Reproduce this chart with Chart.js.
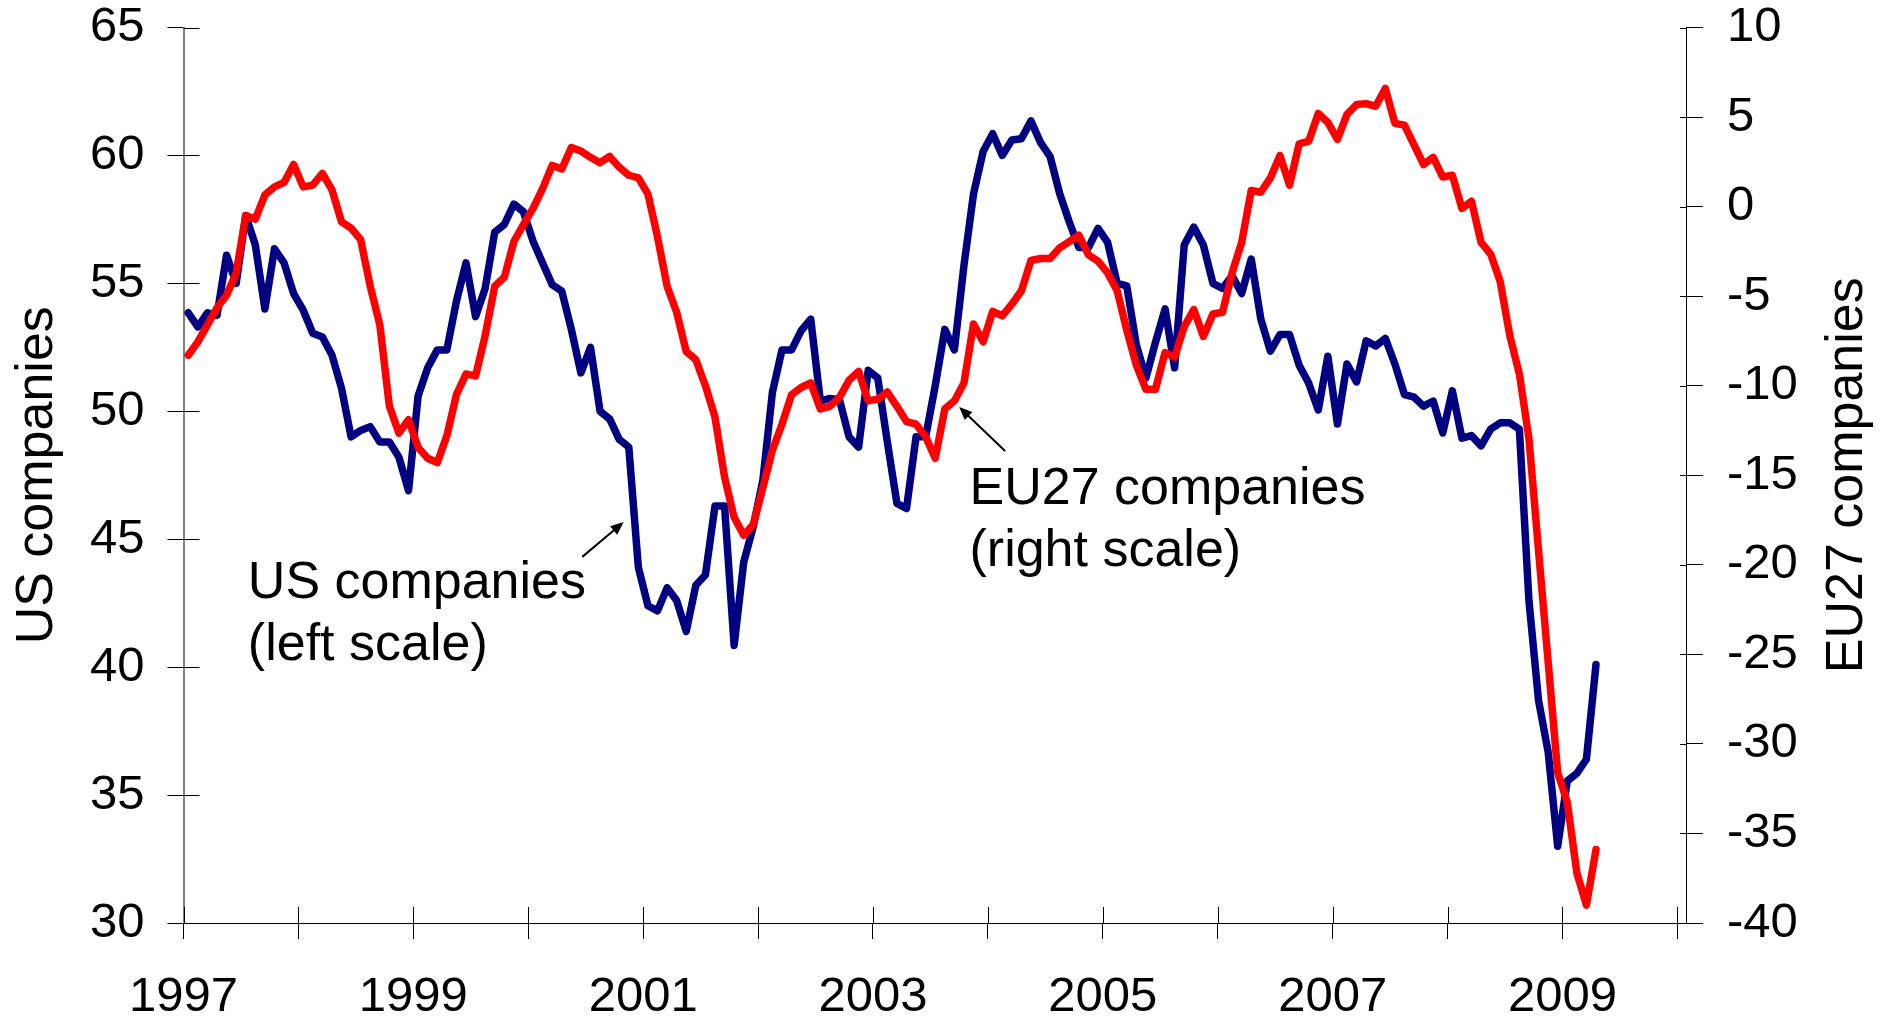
<!DOCTYPE html>
<html>
<head>
<meta charset="utf-8">
<script src="https://cdn.jsdelivr.net/npm/chart.js@4.4.1/dist/chart.umd.min.js"></script>
<style>
  html, body { margin: 0; padding: 0; background: #fff; }
</style>
</head>
<body>
<canvas id="chart" width="1880" height="1023"></canvas>
<script>
// monthly series, first point = Jan 1997, plotted mid-month
const FIRST_YEAR = 1997;

const US_VALUES = [
  53.85, 53.3, 53.85, 53.75, 56.1, 55.0, 57.65, 56.5, 54.0, 56.35, 55.8, 54.6,
  53.95, 53.05, 52.9, 52.2, 50.9, 49.0, 49.25, 49.4, 48.8, 48.8, 48.2, 46.9,
  50.6, 51.7, 52.4, 52.4, 54.3, 55.8, 53.7, 54.8, 57.0, 57.3, 58.1, 57.8,
  56.65, 55.8, 54.95, 54.7, 53.2, 51.5, 52.5, 50.0, 49.7, 48.9, 48.6, 43.9,
  42.4, 42.2, 43.1, 42.6, 41.4, 43.2, 43.6, 46.3, 46.3, 40.85, 44.1, 45.5,
  47.3, 50.75, 52.4, 52.4, 53.15, 53.6, 50.4, 50.5, 50.45, 49.0, 48.6, 51.6,
  51.3, 48.8, 46.4, 46.2, 49.0, 49.0, 51.0, 53.2, 52.4, 55.7, 58.5, 60.15,
  60.85, 60.0, 60.6, 60.65, 61.35, 60.5, 59.95, 58.5, 57.4, 56.4, 56.4, 57.15,
  56.6, 55.0, 54.9, 52.6, 51.3, 52.7, 54.0, 51.7, 56.5, 57.2, 56.5, 55.0,
  54.8, 55.3, 54.6, 55.95, 53.6, 52.35, 53.0, 53.0, 51.8, 51.1, 50.05, 52.15,
  49.5, 51.85, 51.15, 52.75, 52.55, 52.85, 51.85, 50.65, 50.55, 50.2, 50.4, 49.15,
  50.8, 48.95, 49.05, 48.65, 49.3, 49.55, 49.55, 49.3, 42.6, 38.7, 36.7, 33.0,
  35.55, 35.85, 36.4, 40.1
];

const EU_VALUES = [
  -8.3, -7.55, -6.6, -5.65, -4.95, -3.7, -0.5, -0.7, 0.65, 1.1, 1.35, 2.35,
  1.1, 1.2, 1.85, 0.95, -0.85, -1.2, -1.85, -4.45, -6.6, -11.15, -12.65, -11.9,
  -13.45, -14.05, -14.3, -12.8, -10.5, -9.35, -9.45, -7.2, -4.45, -3.95, -1.95, -1.0,
  -0.1, 1.0, 2.3, 2.1, 3.3, 3.1, 2.75, 2.45, 2.8, 2.2, 1.75, 1.6,
  0.7, -1.7, -4.45, -5.9, -8.1, -8.55, -10.0, -11.75, -15.1, -17.35, -18.35, -17.75,
  -15.7, -13.6, -12.15, -10.5, -10.1, -9.85, -11.3, -11.15, -10.65, -9.7, -9.2, -10.85,
  -10.75, -10.35, -11.15, -12.0, -12.15, -12.85, -14.05, -11.3, -10.85, -9.85, -6.55, -7.55,
  -5.85, -6.1, -5.45, -4.7, -3.0, -2.9, -2.9, -2.3, -1.95, -1.6, -2.7, -3.05,
  -3.7, -4.7, -6.9, -8.85, -10.2, -10.2, -8.15, -8.4, -6.7, -5.75, -7.25, -6.0,
  -5.9, -3.7, -2.0, 0.9, 0.8, 1.6, 2.85, 1.2, 3.5, 3.65, 5.2, 4.7,
  3.75, 5.15, 5.7, 5.75, 5.6, 6.6, 4.65, 4.55, 3.45, 2.35, 2.75, 1.65,
  1.75, -0.1, 0.3, -2.0, -2.65, -4.2, -7.2, -9.35, -12.95, -19.2, -25.4, -31.6,
  -33.25, -37.2, -39.0, -35.9
];

const YEAR_TICKS = [1997, 1998, 1999, 2000, 2001, 2002, 2003, 2004, 2005, 2006, 2007, 2008, 2009, 2010];
const YEAR_LABELS = ['1997', '', '1999', '', '2001', '', '2003', '', '2005', '', '2007', '', '2009', ''];

const LEFT_TITLE = 'US companies';
const RIGHT_TITLE = 'EU27 companies';

// callouts anchored in data space: [x, y on own axis]
const US_NOTE = { lines: ['US companies', '(left scale)'], at: [1997.56, 42.7], axis: 'y',
  arrow: [[2000.47, 44.31], [2000.83, 45.67]] };
const EU_NOTE = { lines: ['EU27 companies', '(right scale)'], at: [2003.84, -16.59], axis: 'y2',
  arrow: [[2004.15, -13.65], [2003.75, -11.19]] };

const FONT = "'Liberation Sans', Arial, Helvetica, sans-serif";

const toPoints = (values) => values.map((v, i) => ({ x: FIRST_YEAR + (i + 0.5) / 12, y: v }));

const drawArrow = (ctx, x1, y1, x2, y2) => {
  const ang = Math.atan2(y2 - y1, x2 - x1);
  const len = 13;
  const half = 5.5;
  ctx.beginPath();
  ctx.moveTo(x1, y1);
  ctx.lineTo(x2 - Math.cos(ang) * len * 0.8, y2 - Math.sin(ang) * len * 0.8);
  ctx.stroke();
  ctx.beginPath();
  ctx.moveTo(x2, y2);
  ctx.lineTo(x2 - Math.cos(ang) * len - Math.sin(ang) * half, y2 - Math.sin(ang) * len + Math.cos(ang) * half);
  ctx.lineTo(x2 - Math.cos(ang) * len + Math.sin(ang) * half, y2 - Math.sin(ang) * len - Math.cos(ang) * half);
  ctx.closePath();
  ctx.fill();
};

// y axes: keep the label overhang from pushing the plot area down
const fixYAxis = (width) => (scale) => {
  scale.width = width;
  scale.paddingTop = 0;
  scale.paddingBottom = 0;
};

const overlay = {
  id: 'overlay',
  beforeDatasetsDraw(chart) {
    const { ctx, chartArea, scales } = chart;
    ctx.save();
    ctx.strokeStyle = '#000';
    ctx.lineWidth = 1;
    ctx.beginPath();
    scales.x.ticks.forEach((t) => {
      const px = Math.round(scales.x.getPixelForValue(t.value)) + 0.5;
      ctx.moveTo(px, chartArea.bottom);
      ctx.lineTo(px, chartArea.bottom - 16);
    });
    scales.y.ticks.forEach((t) => {
      const py = Math.round(scales.y.getPixelForValue(t.value)) + 0.5;
      ctx.moveTo(chartArea.left, py);
      ctx.lineTo(chartArea.left + 16, py);
    });
    scales.y2.ticks.forEach((t) => {
      const py = Math.round(scales.y2.getPixelForValue(t.value)) + 0.5;
      ctx.moveTo(chartArea.right, py);
      ctx.lineTo(chartArea.right - 6, py);
    });
    ctx.stroke();
    ctx.restore();
  },
  afterDraw(chart) {
    const { ctx, chartArea, scales } = chart;
    const midY = (chartArea.top + chartArea.bottom) / 2;
    ctx.save();
    ctx.fillStyle = '#000';
    ctx.strokeStyle = '#000';
    ctx.font = `52px ${FONT}`;
    ctx.textAlign = 'center';
    ctx.textBaseline = 'alphabetic';

    // axis titles, both read bottom to top
    [[LEFT_TITLE, 52], [RIGHT_TITLE, 1862]].forEach(([text, x]) => {
      ctx.save();
      ctx.translate(x, midY);
      ctx.rotate(-Math.PI / 2);
      ctx.fillText(text, 0, 0);
      ctx.restore();
    });

    ctx.textAlign = 'left';
    [US_NOTE, EU_NOTE].forEach((note) => {
      const ys = scales[note.axis];
      const x = scales.x.getPixelForValue(note.at[0]);
      const y = ys.getPixelForValue(note.at[1]);
      note.lines.forEach((line, i) => ctx.fillText(line, x, y + i * 62));
      ctx.lineWidth = 2;
      const [a, b] = note.arrow;
      drawArrow(ctx,
        scales.x.getPixelForValue(a[0]), ys.getPixelForValue(a[1]),
        scales.x.getPixelForValue(b[0]), ys.getPixelForValue(b[1]));
    });
    ctx.restore();
  }
};

const tickFont = { family: FONT, size: 49, lineHeight: 1 };

new Chart(document.getElementById('chart'), {
  type: 'line',
  data: {
    datasets: [
      {
        label: 'US companies',
        data: toPoints(US_VALUES),
        yAxisID: 'y',
        borderColor: '#000080',
        borderWidth: 7.5,
        borderJoinStyle: 'round',
        borderCapStyle: 'round',
        pointRadius: 0,
        tension: 0,
        order: 1
      },
      {
        label: 'EU27 companies',
        data: toPoints(EU_VALUES),
        yAxisID: 'y2',
        borderColor: '#FF0000',
        borderWidth: 7.5,
        borderJoinStyle: 'round',
        borderCapStyle: 'round',
        pointRadius: 0,
        tension: 0,
        order: 0
      }
    ]
  },
  options: {
    responsive: false,
    animation: false,
    devicePixelRatio: 1,
    layout: { padding: { top: 27.5, left: 0, right: 0, bottom: 0 } },
    plugins: {
      legend: { display: false },
      tooltip: { enabled: false },
      title: { display: false }
    },
    scales: {
      x: {
        type: 'linear',
        min: 1997,
        max: 2010.075,
        afterBuildTicks: (scale) => {
          scale.ticks = YEAR_TICKS.map((value) => ({ value }));
        },
        afterFit: (scale) => { scale.height = 100; },
        ticks: {
          autoSkip: false,
          maxRotation: 0,
          padding: 34,
          color: '#000',
          font: tickFont,
          callback: (value, index) => YEAR_LABELS[index] ?? ''
        },
        grid: { drawOnChartArea: false, drawTicks: true, tickLength: 16, color: '#000', lineWidth: 1 },
        border: { display: true, color: '#000', width: 1 }
      },
      y: {
        position: 'left',
        min: 30,
        max: 65,
        afterFit: fixYAxis(183.5),
        ticks: { stepSize: 5, padding: 23, color: '#000', font: tickFont },
        grid: { drawOnChartArea: false, drawTicks: true, tickLength: 16, color: '#000', lineWidth: 1 },
        border: { display: true, color: '#808080', width: 2 }
      },
      y2: {
        position: 'right',
        min: -40,
        max: 10,
        afterFit: fixYAxis(194),
        ticks: { stepSize: 5, padding: 24, color: '#000', font: tickFont },
        grid: { drawOnChartArea: false, drawTicks: true, tickLength: 17, color: '#000', lineWidth: 1 },
        border: { display: true, color: '#000', width: 1 }
      }
    }
  },
  plugins: [overlay]
});
</script>
</body>
</html>
